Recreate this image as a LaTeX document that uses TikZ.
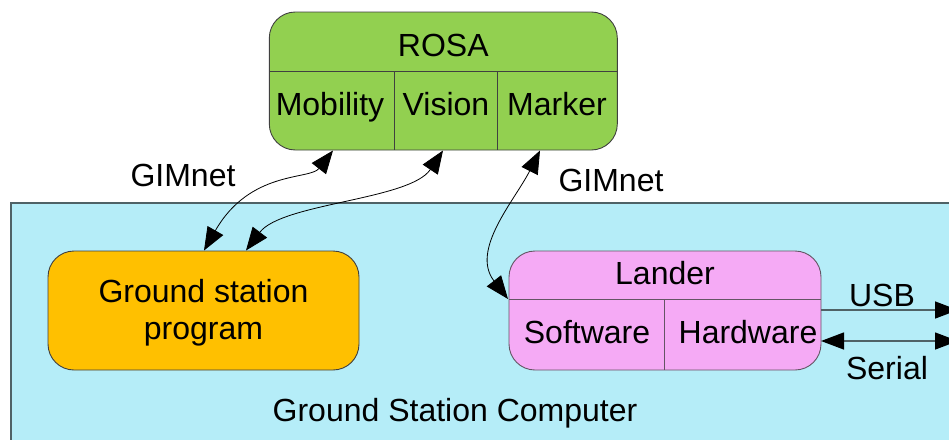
\documentclass[tikz,border=0pt]{standalone}
\usepackage{fontspec}
\setmainfont{Liberation Sans}
\usetikzlibrary{arrows.meta}
\definecolor{rosagreen}{HTML}{92D050}
\definecolor{gsorange}{HTML}{FFC000}
\definecolor{landerpink}{HTML}{F5AAF5}
\definecolor{pcblue}{HTML}{B5EDF8}
\definecolor{edgegray}{HTML}{404040}
\definecolor{linkgray}{HTML}{4F6266}
\tikzset{
  box/.style={draw=edgegray, line width=0.9pt, rounded corners=26pt, inner sep=0pt},
  label/.style={inner sep=0pt, anchor=base, font=\fontsize{32}{37}\selectfont, align=center},
  linktip/.tip={Triangle[length=23pt,width=18pt]},
  link/.style={draw=black, line width=0.8pt, linktip-linktip},
  wire/.style={draw=linkgray, line width=1.4pt},
  wiretip/.tip={Triangle[length=23pt,width=17pt,color=black]}
}
\begin{document}
\begin{tikzpicture}[x=1pt,y=-1pt]
\useasboundingbox (0,0) rectangle (949,439);
\clip (0,0) rectangle (949,439);

% ground station computer frame
\draw[fill=pcblue, draw=linkgray, line width=1.2pt] (11,203) rectangle (960,450);
\node[label] (gscomp) at (455,421) {Ground Station Computer};

% ROSA robot block
\node[box, fill=rosagreen, minimum width=348pt, minimum height=138pt] (rosa) at (443.3,81) {};
\draw[edgegray, line width=0.9pt] (269.3,71) -- (617.3,71);
\draw[edgegray, line width=0.9pt] (394.3,71) -- (394.3,150);
\draw[edgegray, line width=0.9pt] (497.3,71) -- (497.3,150);
\node[label] (rosatitle) at (443.3,56) {ROSA};
\node[label] (mobility) at (330,115.5) {Mobility};
\node[label] (vision) at (446,115.5) {Vision};
\node[label] (marker) at (557,115.5) {Marker};
\coordinate (mobB) at (333,150.5);
\coordinate (visB) at (443,150.5);
\coordinate (marB) at (540,150.5);

% ground station program
\node[box, fill=gsorange, minimum width=311pt, minimum height=119pt] (gsp) at (203.5,310.5) {};
\node[label] (gsp1) at (203.5,302) {Ground station};
\node[label] (gsp2) at (203.5,339) {program};
\coordinate (gspA) at (204,250.5);
\coordinate (gspB) at (246,250.5);

% lander block
\node[box, draw=edgegray!80!landerpink, fill=landerpink, minimum width=312pt, minimum height=119pt] (lander) at (665,310.5) {};
\draw[edgegray!80!landerpink, line width=0.9pt] (509,299) -- (821,299);
\draw[edgegray!80!landerpink, line width=0.9pt] (664.7,299) -- (664.7,370);
\node[label] (landertitle) at (665,284.3) {Lander};
\node[label] (software) at (587,343.3) {Software};
\node[label] (hardware) at (748,343.3) {Hardware};
\coordinate (lanA) at (508,299);

% GIMnet links
\draw[link] (mobB) .. controls (310,180) and (250,170) .. (gspA);
\draw[link] (visB) .. controls (410,200) and (282,203) .. (gspB);
\draw[link] (marB) .. controls (515,200) and (470,250) .. (lanA);
\node[label] (gim1) at (183,186) {GIMnet};
\node[label] (gim2) at (611,191) {GIMnet};

% external connections (running past the right edge)
\coordinate (usbStart) at (821,310);
\coordinate (serStart) at (821,341);
\coordinate (usbEnd) at (958,310);
\coordinate (serEnd) at (958,341);
\draw[wire, -wiretip] (usbStart) -- (usbEnd);
\draw[wire, wiretip-wiretip] (serStart) -- (serEnd);
\node[label] (usb) at (882,306.7) {USB};
\node[label] (serial) at (887,379) {Serial};
\end{tikzpicture}
\end{document}
